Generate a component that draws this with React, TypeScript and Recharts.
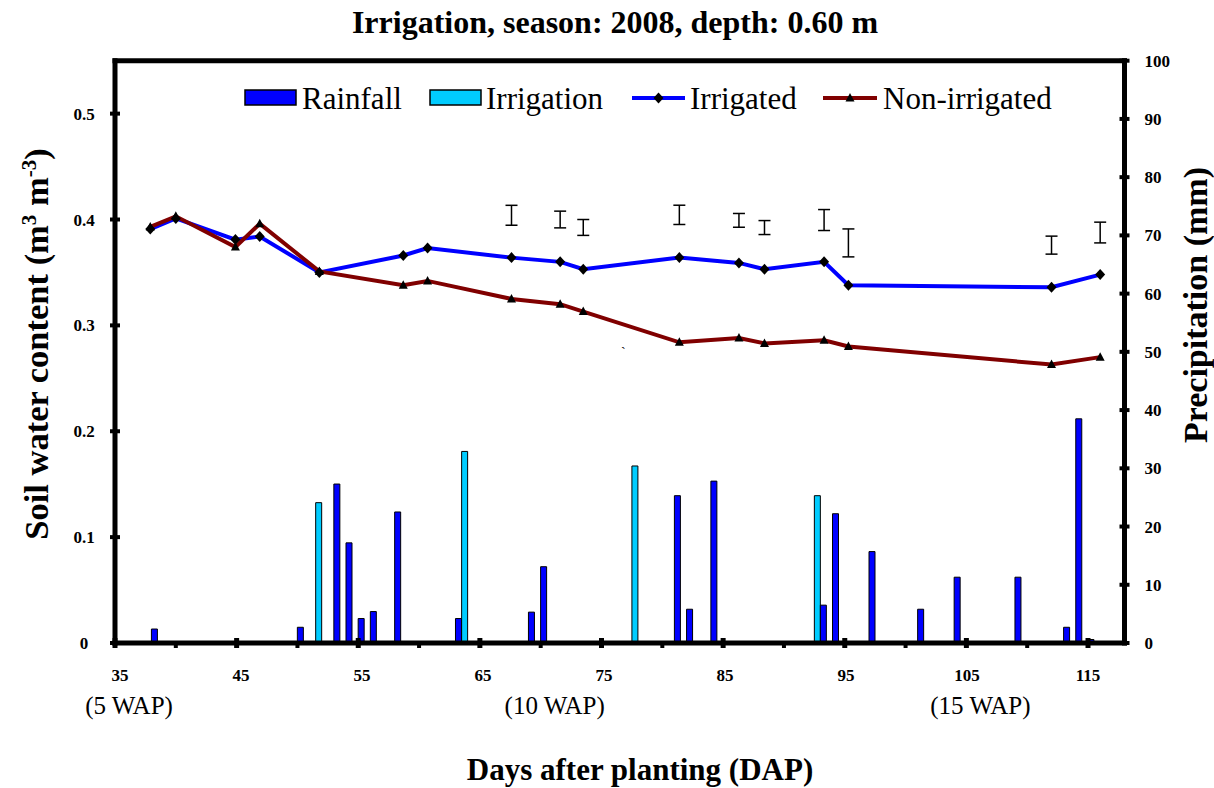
import React from 'react';
import { ComposedChart, Bar, Line, XAxis, YAxis, ErrorBar, Customized } from 'recharts';

// precipitation bars (mm), by day after planting
const barDays = [38, 50, 52, 53, 54, 55, 56, 58, 63, 64, 69, 70, 78, 81, 82, 84, 93, 94, 97, 101, 104, 109, 113, 114, 115];
const rainfall = [2.4, 2.7, null, 27.3, 17.2, 4.2, 5.4, 22.5, 4.2, null, 5.3, 13.1, null, 25.3, 5.8, 27.8, 6.5, 22.2, 15.7, 5.8, 11.3, 11.3, 2.7, 38.5, 0.6];
const irrigation = [null, null, 24.1, null, null, null, null, null, null, 32.9, null, null, 30.4, null, null, null, 25.3, null, null, null, null, null, null, null, null];

// soil water content (m3 m-3)
const lineDays = [37.9, 40.0, 44.9, 46.9, 51.8, 58.7, 60.7, 67.6, 71.6, 73.5, 81.4, 86.3, 88.4, 93.3, 95.3, 112.0, 116.0];
const irrigated = [0.391, 0.401, 0.381, 0.384, 0.350, 0.366, 0.373, 0.364, 0.360, 0.353, 0.364, 0.359, 0.353, 0.360, 0.338, 0.336, 0.348];
const nonIrrigated = [0.393, 0.403, 0.374, 0.396, 0.351, 0.338, 0.342, 0.325, 0.320, 0.313, 0.284, 0.288, 0.283, 0.286, 0.280, 0.263, 0.270];

// LSD bars drawn above the curves
const lsdDays = [67.6, 71.6, 73.5, 81.4, 86.3, 88.4, 93.3, 95.3, 112.0, 116.0];
const lsdMid = [0.404, 0.400, 0.3925, 0.4044, 0.3992, 0.3924, 0.3995, 0.3779, 0.3758, 0.3877];
const lsdHalf = [0.0094, 0.0079, 0.0075, 0.0091, 0.0065, 0.0066, 0.0099, 0.0132, 0.0085, 0.0098];

const xTicks = [35, 40, 45, 50, 55, 60, 65, 70, 75, 80, 85, 90, 95, 100, 105, 110, 115];
const leftTicks = [0, 0.1, 0.2, 0.3, 0.4, 0.5];
const rightTicks = [0, 10, 20, 30, 40, 50, 60, 70, 80, 90, 100];
const wapDays = [35, 70, 105];
const wapLabels = ['(5 WAP)', '(10 WAP)', '(15 WAP)'];

const barData = barDays.map((d, i) => ({ day: d, rain: rainfall[i], irr: irrigation[i] }));
const irrData = lineDays.map((d, i) => ({ x: d, v: irrigated[i] }));
const nonData = lineDays.map((d, i) => ({ x: d, v: nonIrrigated[i] }));
const lsdData = lsdDays.map((d, i) => ({ x: d, mid: lsdMid[i], err: lsdHalf[i] }));

const FONT = "'Liberation Serif', 'Times New Roman', serif";
const BLUE = '#0000FF';
const CYAN = '#00CCFF';
const RED = '#800000';

const diamondPath = (cx: number, cy: number) => `M${cx},${cy - 5.5}L${cx + 5},${cy}L${cx},${cy + 5.5}L${cx - 5},${cy}Z`;
const trianglePath = (cx: number, cy: number) => `M${cx},${cy - 5}L${cx + 4.5},${cy + 3.5}L${cx - 4.5},${cy + 3.5}Z`;

const Diamond = (p: any) => {
  if (p.cx == null) return <g key={`d${p.index}`} />;
  return <path key={`d${p.index}`} d={diamondPath(p.cx, p.cy)} fill="#000" />;
};
const Triangle = (p: any) => {
  if (p.cx == null) return <g key={`t${p.index}`} />;
  return <path key={`t${p.index}`} d={trianglePath(p.cx, p.cy)} fill="#000" />;
};

const XTick = (props: any) => {
  const { x, y, payload } = props;
  const v = payload.value;
  const major = (v - 35) % 10 === 0;
  const w = wapDays.indexOf(v);
  return (
    <g>
      <line x1={x} x2={x} y1={major ? y - 5 : y} y2={y + 5} stroke="#000" strokeWidth={major ? 5 : 4} />
      {major && (
        <text x={x + 5 - (v - 35) / 16} y={y + 38} textAnchor="middle" fontFamily={FONT} fontWeight="bold" fontSize={17} fill="#000">
          {v}
        </text>
      )}
      {w >= 0 && (
        <text x={x + 14} y={y + 71} textAnchor="middle" fontFamily={FONT} fontSize={25} fill="#000">
          {wapLabels[w]}
        </text>
      )}
    </g>
  );
};

const LeftTick = (props: any) => {
  const { x, y, payload } = props;
  return (
    <g>
      <line x1={x - 5} x2={x + 5} y1={y} y2={y} stroke="#000" strokeWidth={4} />
      <text x={x - 31} y={y + 6} textAnchor="middle" fontFamily={FONT} fontWeight="bold" fontSize={17} fill="#000">
        {payload.value}
      </text>
    </g>
  );
};

const RightTick = (props: any) => {
  const { x, y, payload } = props;
  return (
    <g>
      <line x1={x - 5} x2={x + 5} y1={y} y2={y} stroke="#000" strokeWidth={4} />
      <text x={x + 20} y={y + 6} textAnchor="start" fontFamily={FONT} fontWeight="bold" fontSize={17} fill="#000">
        {payload.value}
      </text>
    </g>
  );
};

const Decorations = () => (
  <g fontFamily={FONT} fill="#000">
    <text x={615} y={33} textAnchor="middle" fontWeight="bold" fontSize={32}>
      Irrigation, season: 2008, depth: 0.60 m
    </text>

    {/* legend */}
    <rect x={245} y={90} width={51} height={15} fill={BLUE} stroke="#000" strokeWidth={1.5} />
    <text x={302} y={109} fontSize={31}>Rainfall</text>
    <rect x={430} y={90} width={51} height={15} fill={CYAN} stroke="#000" strokeWidth={1.5} />
    <text x={486} y={109} fontSize={31}>Irrigation</text>
    <line x1={632} x2={685} y1={98} y2={98} stroke={BLUE} strokeWidth={4} />
    <path d={diamondPath(658.5, 98)} fill="#000" />
    <text x={690} y={109} fontSize={31}>Irrigated</text>
    <line x1={823} x2={877} y1={98} y2={98} stroke={RED} strokeWidth={4} />
    <path d={trianglePath(850, 98)} fill="#000" />
    <text x={883} y={109} fontSize={31}>Non-irrigated</text>

    <text x={621} y={357} fontSize={14}>`</text>

    <text x={640} y={780} textAnchor="middle" fontWeight="bold" fontSize={31}>
      Days after planting (DAP)
    </text>
    <text transform="translate(48,344) rotate(-90)" textAnchor="middle" fontWeight="bold" fontSize={34.5}>
      Soil water content (m<tspan dy={-12} fontSize={21}>3</tspan><tspan dy={12}> m</tspan><tspan dy={-12} fontSize={21}>-3</tspan><tspan dy={12}>)</tspan>
    </text>
    <text transform="translate(1207,305) rotate(-90)" textAnchor="middle" fontWeight="bold" fontSize={34}>
      Precipitation (mm)
    </text>
  </g>
);

export default function App() {
  const axisLine = { stroke: '#000', strokeWidth: 5, strokeLinecap: 'square' as const };
  return (
    <div style={{ position: 'absolute', left: 0, top: 0, background: '#fff' }}>
      <ComposedChart width={1214} height={788} data={barData} margin={{ top: 59.7, right: 29.5, left: 55, bottom: 105 }}>
        <XAxis
          xAxisId="bars"
          dataKey="day"
          type="number"
          orientation="top"
          domain={[35, 118]}
          allowDataOverflow
          height={1}
          tick={false}
          tickLine={false}
          axisLine={axisLine}
        />
        <XAxis
          xAxisId="lines"
          dataKey="x"
          type="number"
          domain={[35, 118]}
          allowDataOverflow
          ticks={xTicks}
          interval={0}
          height={40}
          tickSize={0}
          tickMargin={0}
          tickLine={false}
          axisLine={axisLine}
          tick={<XTick />}
        />
        <YAxis
          yAxisId="swc"
          type="number"
          domain={[0, 0.55]}
          ticks={leftTicks}
          interval={0}
          width={60}
          tickSize={0}
          tickMargin={0}
          tickLine={false}
          axisLine={axisLine}
          tick={<LeftTick />}
        />
        <YAxis
          yAxisId="mm"
          orientation="right"
          type="number"
          domain={[0, 100]}
          ticks={rightTicks}
          interval={0}
          width={60}
          tickSize={0}
          tickMargin={0}
          tickLine={false}
          axisLine={axisLine}
          tick={<RightTick />}
        />

        <Bar xAxisId="bars" yAxisId="mm" dataKey="irr" name="Irrigation" fill={CYAN} stroke="#000" strokeWidth={1} barSize={6} isAnimationActive={false} />
        <Bar xAxisId="bars" yAxisId="mm" dataKey="rain" name="Rainfall" fill={BLUE} stroke="#000" strokeWidth={1} barSize={6} isAnimationActive={false} />

        <Line xAxisId="lines" yAxisId="swc" data={irrData} dataKey="v" name="Irrigated" stroke={BLUE} strokeWidth={4} dot={false} activeDot={false} isAnimationActive={false} />
        <Line xAxisId="lines" yAxisId="swc" data={nonData} dataKey="v" name="Non-irrigated" stroke={RED} strokeWidth={4} dot={false} activeDot={false} isAnimationActive={false} />
        <Line xAxisId="lines" yAxisId="swc" data={irrData} dataKey="v" stroke="none" dot={Diamond} activeDot={false} isAnimationActive={false} legendType="none" />
        <Line xAxisId="lines" yAxisId="swc" data={nonData} dataKey="v" stroke="none" dot={Triangle} activeDot={false} isAnimationActive={false} legendType="none" />

        <Line xAxisId="lines" yAxisId="swc" data={lsdData} dataKey="mid" stroke="none" dot={false} activeDot={false} isAnimationActive={false} legendType="none">
          <ErrorBar dataKey="err" direction="y" width={6} stroke="#000" strokeWidth={1.5} isAnimationActive={false} />
        </Line>

        <Customized component={<Decorations />} />
      </ComposedChart>
    </div>
  );
}
